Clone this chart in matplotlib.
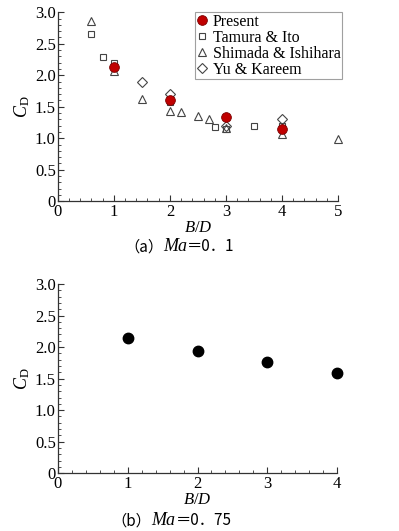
import matplotlib
matplotlib.use('Agg')
import matplotlib.pyplot as plt
from matplotlib.ticker import MultipleLocator, FuncFormatter
from matplotlib.offsetbox import TextArea, HPacker, AnchoredOffsetbox

# (a) Ma = 0.1
present_x = [1, 2, 3, 4]
present_y = [2.13, 1.60, 1.34, 1.14]
tamura_x = [0.6, 0.8, 1, 2, 2.8, 3, 3.5, 4]
tamura_y = [2.65, 2.29, 2.19, 1.57, 1.18, 1.15, 1.19, 1.19]
shimada_x = [0.6, 1, 1.5, 2, 2.2, 2.5, 2.7, 3, 4, 5]
shimada_y = [2.86, 2.06, 1.63, 1.43, 1.41, 1.35, 1.31, 1.17, 1.06, 0.99]
yu_x = [1.5, 2, 3, 4]
yu_y = [1.89, 1.70, 1.20, 1.31]

# (b) Ma = 0.75
ma075_x = [1, 2, 3, 4]
ma075_y = [2.14, 1.94, 1.77, 1.59]

SERIF = 'Liberation Serif'
CJK = 'Noto Sans CJK SC'
plt.rcParams['font.family'] = SERIF
plt.rcParams['mathtext.fontset'] = 'custom'
plt.rcParams['mathtext.it'] = 'Liberation Serif:italic'
plt.rcParams['mathtext.rm'] = 'Liberation Serif'
plt.rcParams['font.size'] = 11


def style_axes(ax, xmax):
    ax.set_xlim(0, xmax)
    ax.set_ylim(0, 3.0)
    for s in ['top', 'right']:
        ax.spines[s].set_visible(False)
    for s in ['left', 'bottom']:
        ax.spines[s].set_color('#333333')
        ax.spines[s].set_linewidth(0.9)
    ax.xaxis.set_major_locator(MultipleLocator(1))
    ax.xaxis.set_minor_locator(MultipleLocator(0.2))
    ax.yaxis.set_major_locator(MultipleLocator(0.5))
    ax.yaxis.set_minor_locator(MultipleLocator(0.1))
    ax.yaxis.set_major_formatter(FuncFormatter(lambda v, p: '0' if v == 0 else f'{v:.1f}'))
    ax.tick_params(which='major', direction='in', length=4, width=0.8, color='#333333', labelsize=12, pad=1.5)
    ax.tick_params(axis='x', which='major', pad=2)
    ax.tick_params(which='minor', direction='in', length=2.2, width=0.6, color='#333333')
    ax.set_xlabel('$B/D$', fontsize=12, labelpad=0)
    ax.set_ylabel('$C_\\mathrm{D}$', fontsize=13, labelpad=2)


def caption(fig, label, x, y):
    parts = [TextArea('（' + label + '）', textprops=dict(family=CJK, size=11)),
             TextArea('Ma', textprops=dict(family=SERIF, style='italic', size=13)),
             TextArea('＝0．' + ('1' if label == 'a' else '75'), textprops=dict(family=CJK, size=11))]
    box = HPacker(children=parts, sep=0, align='baseline', pad=0)
    ab = AnchoredOffsetbox(loc='center', child=box, frameon=False, pad=0,
                           bbox_to_anchor=(x, y), bbox_transform=fig.transFigure, borderpad=0)
    fig.add_artist(ab)


fig = plt.figure(figsize=(3.99, 5.31), dpi=100)

ax1 = fig.add_axes([0.145, 0.621, 0.702, 0.356])
style_axes(ax1, 5)
ax1.plot(present_x, present_y, 'o', ms=7, mfc='#c00000', mec='#7a0000', mew=0.6, label='Present', zorder=5, clip_on=False)
ax1.plot(tamura_x, tamura_y, 's', ms=5, mfc='none', mec='#444444', mew=0.8, label='Tamura & Ito', clip_on=False)
ax1.plot(shimada_x, shimada_y, '^', ms=6, mfc='none', mec='#444444', mew=0.8, label='Shimada & Ishihara', clip_on=False)
ax1.plot(yu_x, yu_y, 'D', ms=5, mfc='none', mec='#444444', mew=0.8, label='Yu & Kareem', clip_on=False)
leg = ax1.legend(loc='upper right', bbox_to_anchor=(1.015, 1.0), fontsize=11.5, frameon=True, fancybox=False,
                 edgecolor='#888888', handlelength=0.6, handletextpad=0.4, borderpad=0.1,
                 labelspacing=0.0, borderaxespad=0)
leg.get_frame().set_linewidth(0.8)

ax2 = fig.add_axes([0.145, 0.109, 0.700, 0.356])
style_axes(ax2, 4)
ax2.plot(ma075_x, ma075_y, 'o', ms=7.5, mfc='black', mec='black', clip_on=False)

caption(fig, 'a', 0.45, 0.535)
caption(fig, 'b', 0.43, 0.019)

fig.savefig('out.png', dpi=100)
